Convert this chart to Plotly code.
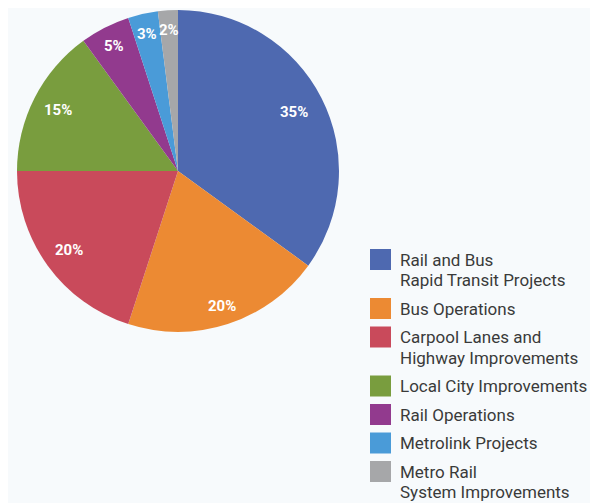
import math
import plotly.graph_objects as go

categories = [
    "Rail and Bus<br>Rapid Transit Projects",
    "Bus Operations",
    "Carpool Lanes and<br>Highway Improvements",
    "Local City Improvements",
    "Rail Operations",
    "Metrolink Projects",
    "Metro Rail<br>System Improvements",
]
values = [35, 20, 20, 15, 5, 3, 2]
colors = ["#4e69b0", "#ec8a33", "#c94a5b", "#799d3e", "#923a8e", "#4a9bd8", "#a6a7a9"]

W, H = 598, 503
OFF = 8  # page body offset
cx, cy, R = 178 - OFF, 171 - OFF, 161

fig = go.Figure()
fig.add_trace(go.Pie(
    labels=[c.replace("<br>", " ") for c in categories],
    values=values,
    sort=False,
    direction="clockwise",
    rotation=0,
    marker=dict(colors=colors, line=dict(width=0)),
    textinfo="none",
    hoverinfo="label+percent",
    showlegend=False,
    domain=dict(x=[(cx - R) / W, (cx + R) / W], y=[1 - (cy + R) / H, 1 - (cy - R) / H]),
))

annotations = []
shapes = []
total = sum(values)
cum = 0
label_r = [0.81, 0.88, 0.84, 0.84, 0.87, 0.87, 0.88]
for i, v in enumerate(values):
    mid = (cum + v / 2) / total * 2 * math.pi
    cum += v
    r = R * label_r[i]
    px = cx + r * math.sin(mid)
    py = cy - r * math.cos(mid)
    annotations.append(dict(
        x=px / W, y=1 - py / H, xref="paper", yref="paper",
        text="<b>%d%%</b>" % round(v / total * 100),
        showarrow=False, font=dict(family="Roboto", size=15, color="white"),
        xanchor="center", yanchor="middle",
    ))

# legend
sq = 21
top = 249 - OFF
lx = 370 - OFF
line_h = 20.5
for i, (cat, col) in enumerate(zip(categories, colors)):
    lines = cat.split("<br>")
    shapes.append(dict(type="rect", xref="paper", yref="paper",
                       x0=lx / W, x1=(lx + sq) / W,
                       y0=1 - top / H, y1=1 - (top + sq) / H,
                       fillcolor=col, line=dict(width=0)))
    for j, ln in enumerate(lines):
        yc = top + sq / 2 + j * line_h
        annotations.append(dict(
            x=(lx + 28) / W, y=1 - yc / H, xref="paper", yref="paper",
            text=ln, showarrow=False, align="left",
            xanchor="left", yanchor="middle",
            font=dict(family="Roboto", size=17, color="#3a3a3a"),
        ))
    top += 28.5 + (len(lines) - 1) * line_h

fig.update_layout(
    width=W, height=H,
    margin=dict(l=0, r=0, t=0, b=0),
    paper_bgcolor="#f7fafc",
    plot_bgcolor="#f7fafc",
    annotations=annotations,
    shapes=shapes,
)
fig.write_html("out.html")
